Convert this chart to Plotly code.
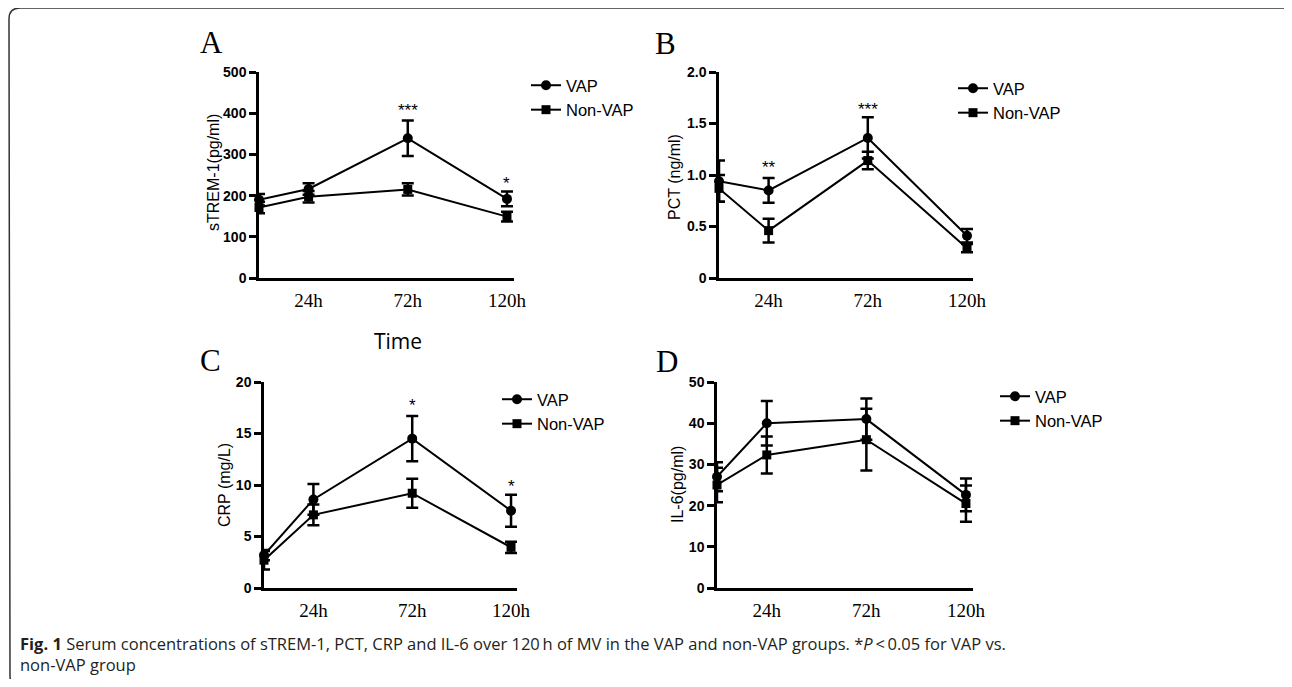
import plotly.graph_objects as go

# page body has an 8px margin: figure is offset by 8px and sized to fill the window
OFF = 8
W, H = 1292 - 2 * OFF, 687 - 2 * OFF

hours = [0, 24, 72, 120]
xtick_vals = [24, 72, 120]
xtick_text = ["24h", "72h", "120h"]

# Panel A: sTREM-1 (pg/ml)
strem_vap = [190, 216, 339, 192]
strem_vap_err = [14, 14, 43, 18]
strem_non = [171, 197, 215, 149]
strem_non_err = [14, 14, 15, 12]

# Panel B: PCT (ng/ml)
pct_vap = [0.94, 0.85, 1.36, 0.41]
pct_vap_err = [0.20, 0.12, 0.20, 0.065]
pct_non = [0.87, 0.46, 1.14, 0.29]
pct_non_err = [0.13, 0.115, 0.085, 0.04]

# Panel C: CRP (mg/L)
crp_vap = [3.2, 8.6, 14.5, 7.5]
crp_vap_err = [0.5, 1.5, 2.2, 1.55]
crp_non = [2.7, 7.1, 9.2, 3.95]
crp_non_err = [0.9, 1.0, 1.4, 0.55]

# Panel D: IL-6 (pg/ml)
il6_vap = [27, 40, 41, 22.6]
il6_vap_err = [3.5, 5.4, 5.0, 4.0]
il6_non = [25, 32.3, 36, 20.5]
il6_non_err = [4.2, 4.5, 7.5, 4.4]

# significance marks: (panel, hour, y value, text)
stars = [
    ("A", 72, 417, "***"),
    ("A", 120, 238, "*"),
    ("B", 24, 1.107, "**"),
    ("B", 72, 1.67, "***"),
    ("C", 72, 18.06, "*"),
    ("C", 120, 10.2, "*"),
]


def px(x):
    return (x - OFF) / W


def py(y):
    return 1 - (y - OFF) / H


panels = {
    "A": dict(ax="", data=(strem_vap, strem_vap_err, strem_non, strem_non_err),
              xdom=(259, 514), ydom=(278, 72), xmax=123.4,
              yvals=[0, 100, 200, 300, 400, 500], ytext=["0", "100", "200", "300", "400", "500"],
              ytitle="sTREM-1(pg/ml)", tpos=(213, 173), letter=(211, 42),
              legend="legend", leg=(526, 68)),
    "B": dict(ax="2", data=(pct_vap, pct_vap_err, pct_non, pct_non_err),
              xdom=(719, 973), ydom=(278, 72), xmax=122.9,
              yvals=[0, 0.5, 1.0, 1.5, 2.0], ytext=["0", "0.5", "1.0", "1.5", "2.0"],
              ytitle="PCT (ng/ml)", tpos=(675, 177), letter=(665, 43),
              legend="legend2", leg=(953, 71)),
    "C": dict(ax="3", data=(crp_vap, crp_vap_err, crp_non, crp_non_err),
              xdom=(264, 517), ydom=(588, 382), xmax=122.9,
              yvals=[0, 5, 10, 15, 20], ytext=["0", "5", "10", "15", "20"],
              ytitle="CRP (mg/L)", tpos=(224, 485), letter=(210, 360),
              legend="legend3", leg=(497, 382)),
    "D": dict(ax="4", data=(il6_vap, il6_vap_err, il6_non, il6_non_err),
              xdom=(717, 973), ydom=(588, 382), xmax=123.4,
              yvals=[0, 10, 20, 30, 40, 50], ytext=["0", "10", "20", "30", "40", "50"],
              ytitle="IL-6(pg/ml)", tpos=(677, 485), letter=(667, 361),
              legend="legend4", leg=(995, 379)),
}

fig = go.Figure()
layout = dict(
    width=W, height=H,
    margin=dict(l=0, r=0, t=0, b=0, autoexpand=False),
    paper_bgcolor="white", plot_bgcolor="white",
    showlegend=True,
)
annotations = []
AXFONT = "Arial, Liberation Sans, sans-serif"
SERIF = "Times New Roman, Liberation Serif, serif"

for key, p in panels.items():
    vap, vap_err, non, non_err = p["data"]
    xa = "x" + p["ax"]
    ya = "y" + p["ax"]
    for name, vals, errs, sym, size in (("VAP", vap, vap_err, "circle", 10),
                                        ("Non-VAP", non, non_err, "square", 9)):
        fig.add_trace(go.Scatter(
            x=hours, y=vals, name=name, mode="lines+markers",
            xaxis=xa, yaxis=ya, legend=p["legend"], cliponaxis=False,
            line=dict(color="black", width=2),
            marker=dict(symbol=sym, size=size, color="black"),
            error_y=dict(type="data", array=errs, visible=True,
                         color="black", thickness=2.5, width=6),
        ))
    xkey = "xaxis" + p["ax"]
    ykey = "yaxis" + p["ax"]
    layout[xkey] = dict(
        domain=[px(p["xdom"][0]), px(p["xdom"][1])], anchor=ya,
        range=[0, p["xmax"]], tickvals=xtick_vals, ticktext=xtick_text,
        showline=True, linecolor="black", linewidth=2.5, ticks="",
        ticklabelstandoff=3, automargin=False,
        tickfont=dict(family=SERIF, size=19, color="black"),
        showgrid=False, zeroline=False, fixedrange=True,
    )
    layout[ykey] = dict(
        domain=[py(p["ydom"][0]), py(p["ydom"][1])], anchor=xa,
        range=[0, p["yvals"][-1]], tickvals=p["yvals"], ticktext=p["ytext"],
        showline=True, linecolor="black", linewidth=2.5, automargin=False,
        ticks="outside", ticklen=7, tickwidth=2.5, tickcolor="black",
        tickfont=dict(family=AXFONT, size=14, color="black", weight="bold"),
        showgrid=False, zeroline=False, fixedrange=True,
    )
    layout[p["legend"]] = dict(
        x=px(p["leg"][0]), y=py(p["leg"][1]), xanchor="left", yanchor="top",
        xref="paper", yref="paper", bgcolor="rgba(0,0,0,0)",
        font=dict(family=AXFONT, size=16.5, color="black"),
        itemwidth=30, tracegroupgap=0,
    )
    annotations.append(dict(
        text=p["ytitle"], textangle=-90, xref="paper", yref="paper",
        x=px(p["tpos"][0]), y=py(p["tpos"][1]), xanchor="center", yanchor="middle",
        showarrow=False, font=dict(family=AXFONT, size=16, color="black"),
    ))
    annotations.append(dict(
        text=key, xref="paper", yref="paper",
        x=px(p["letter"][0]), y=py(p["letter"][1]), xanchor="center", yanchor="middle",
        showarrow=False, font=dict(family=SERIF, size=31, color="black"),
    ))

for key, hr, yv, txt in stars:
    ax = panels[key]["ax"]
    annotations.append(dict(
        text=txt, xref="x" + ax, yref="y" + ax, x=hr, y=yv,
        xanchor="center", yanchor="middle", yshift=-4, showarrow=False,
        font=dict(family=AXFONT, size=17, color="black"),
    ))

# x-axis title "Time" (panel A)
annotations.append(dict(
    text="Time", xref="paper", yref="paper", x=px(398), y=py(341),
    xanchor="center", yanchor="middle", showarrow=False,
    font=dict(family="Open Sans, sans-serif", size=21, color="black"),
))

# caption
annotations.append(dict(
    text=("<b>Fig. 1</b> Serum concentrations of sTREM-1, PCT, CRP and IL-6 over 120\u2009h of MV "
          "in the VAP and non-VAP groups. *<i>P</i>\u2009&lt;\u20090.05 for VAP vs.<br>non-VAP group"),
    xref="paper", yref="paper", x=px(18), y=py(630), xanchor="left", yanchor="top",
    align="left", showarrow=False,
    font=dict(family="Open Sans, sans-serif", size=16.5, color="#231f20"),
))

layout["annotations"] = annotations


def P(x, y):
    return f"{px(x):.5f},{py(y):.5f}"


border = (f"M{P(1291, 16)} Q{P(1291, 8)} {P(1282, 8)} L{P(20, 8)} Q{P(9, 8)} {P(9, 19)} "
          f"L{P(10, 676)} Q{P(10, 686)} {P(20, 687)}")
layout["shapes"] = [dict(type="path", path=border, xref="paper", yref="paper",
                         line=dict(color="#333333", width=1.5))]

fig.update_layout(**layout)
fig.write_html("out.html")
